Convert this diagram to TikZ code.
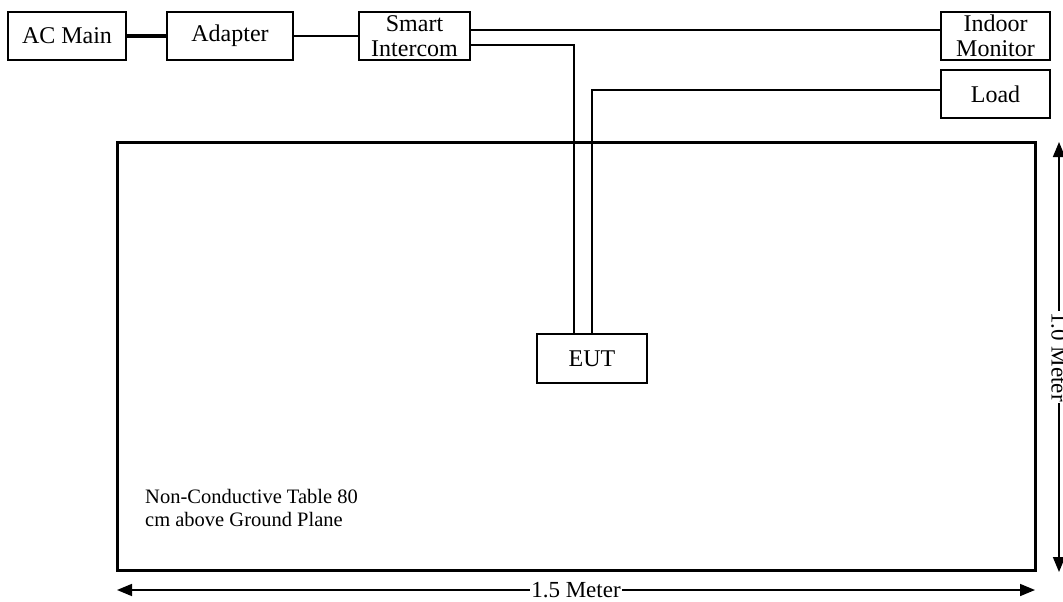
\documentclass[tikz,border=0pt]{standalone}
\usepackage{fontspec}
\setmainfont{Liberation Serif}
\usetikzlibrary{arrows.meta}
\begin{document}
\begin{tikzpicture}[x=1pt,y=-1pt,
  box/.style={draw, line width=1.5pt, inner sep=0pt, align=center,
    font=\fontsize{24}{25}\selectfont},
  wire/.style={line width=2pt},
  dim/.style={line width=1.6pt, {Triangle[length=15pt,width=12pt]}-{Triangle[length=15pt,width=12pt]}},
  dimlabel/.style={fill=white, inner sep=1pt, font=\fontsize{23}{24}\selectfont}]
\useasboundingbox (0,0) rectangle (1063,602);
\node[box, minimum width=118pt, minimum height=48pt] (ac) at (67,36) {AC Main};
\node[box, minimum width=126pt, minimum height=48pt] (ad) at (230,36) {Adapter};
\node[box, minimum width=111pt, minimum height=48pt] (si) at (414.5,36) {Smart\\Intercom};
\node[box, minimum width=109pt, minimum height=48pt] (im) at (995.5,36) {Indoor\\Monitor};
\node[box, minimum width=109pt, minimum height=48pt] (ld) at (995.5,94) {Load};
\node[box, minimum width=110pt, minimum height=49pt] (eut) at (592,358.5) {EUT};
\draw[line width=3pt] (117,142) rectangle (1035,570);
\node[anchor=base west, align=left, inner sep=0pt, font=\fontsize{20.5}{23}\selectfont] (tbl) at (145,526) {Non-Conductive Table 80\\cm above Ground Plane};
\draw[line width=3.5pt] (ac.east) -- (ad.west);
\draw[wire] (ad.east) -- (si.west);
\draw[wire] (si.east |- 0,30) -- (im.west |- 0,30);
\draw[wire] (si.east |- 0,45) -| (eut.north -| 574,0);
\draw[wire] (ld.west |- 0,90) -| (eut.north -| 592,0);
\coordinate (hl) at (117,590);
\coordinate (hr) at (1035,590);
\draw[dim] (hl) -- (hr) node[midway, dimlabel] {1.5 Meter};
\coordinate (vt) at (1059,142);
\coordinate (vb) at (1059,572);
\draw[dim] (vt) -- (vb) node[midway, dimlabel, rotate=-90] {1.0 Meter};
\end{tikzpicture}
\end{document}
